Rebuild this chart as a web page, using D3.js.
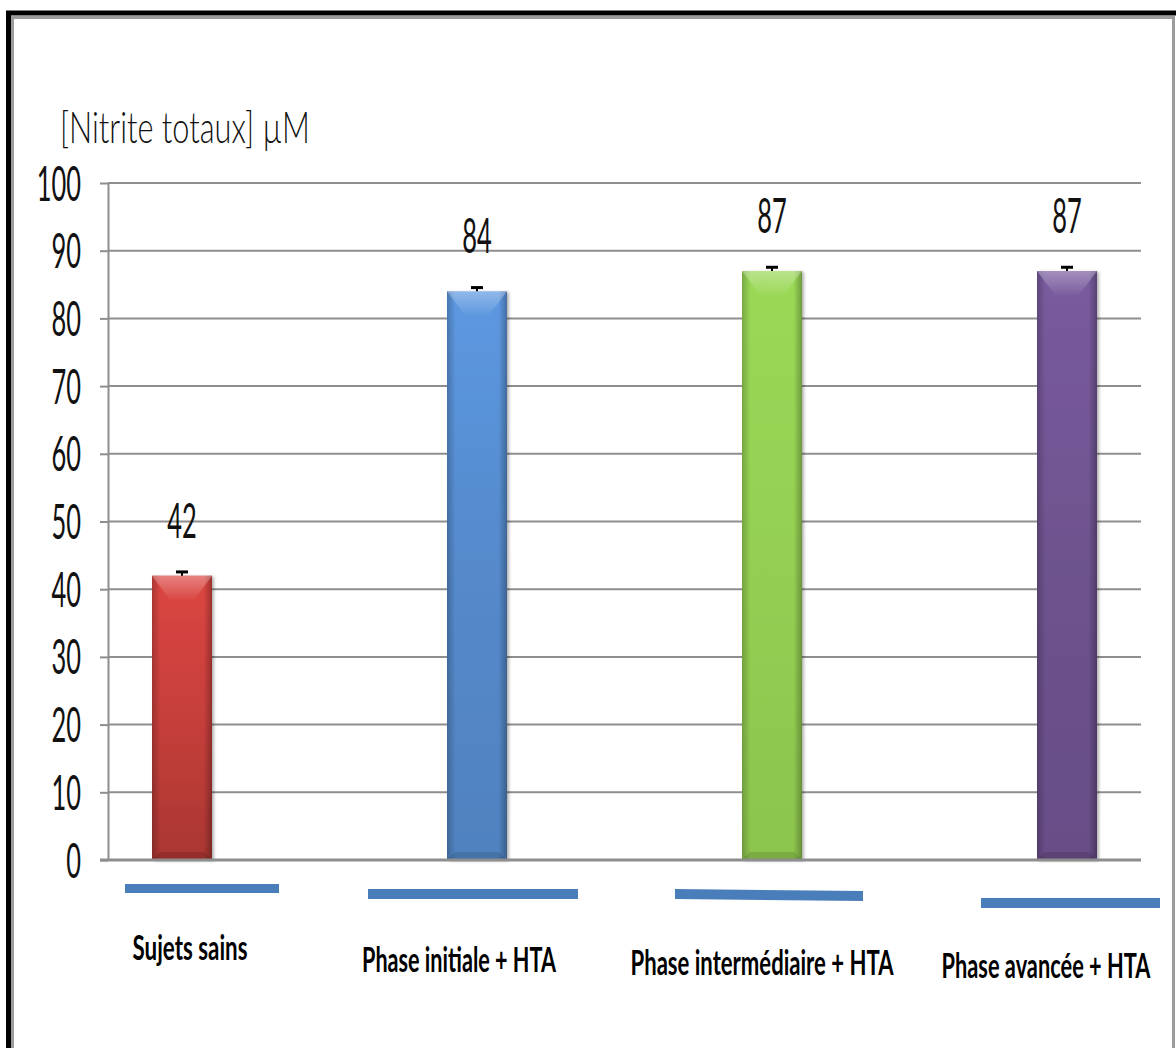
<!DOCTYPE html>
<html>
<head>
<meta charset="utf-8">
<script src="https://cdn.jsdelivr.net/npm/d3@7"></script>
<style>
  html, body { margin: 0; padding: 0; background: #ffffff; }
  svg { display: block; }
</style>
</head>
<body>
<div id="chart"></div>
<script>
// Total nitrite concentration per group
const categories = ["Sujets sains", "Phase initiale + HTA", "Phase intermédiaire + HTA", "Phase avancée + HTA"];
const values = [42, 84, 87, 87];
const errors = [0.7, 0.7, 0.7, 0.7];
const barColors = ["#c63f3b", "#5489ca", "#94cf52", "#6d528e"];
const yTicks = [0, 10, 20, 30, 40, 50, 60, 70, 80, 90, 100];
const yTitle = "[Nitrite totaux] µM";

// Placement of the category captions and the blue strokes drawn under the axis
const captionLayout = [
  { cx: 190, base: 960, len: 115 },
  { cx: 459, base: 972, len: 194 },
  { cx: 762, base: 975, len: 263 },
  { cx: 1046, base: 978, len: 209 }
];
const strokeLayout = [
  { x0: 125, x1: 279, y0: 884, y1: 884, h: 9 },
  { x0: 368, x1: 578, y0: 889, y1: 889, h: 10 },
  { x0: 675, x1: 863, y0: 889, y1: 891, h: 10 },
  { x0: 981, x1: 1160, y0: 898, y1: 898, h: 10 }
];

const W = 1176, H = 1048;
const plot = { left: 108, right: 1141, top: 183, bottom: 860 };
const barW = 60;
const FONT = "Lato, 'Open Sans', 'Liberation Sans', sans-serif";
const NUM_WEIGHT = 400;

const svg = d3.select("#chart").append("svg")
  .attr("width", W).attr("height", H)
  .attr("viewBox", `0 0 ${W} ${H}`);

const defs = svg.append("defs");

// Frame around the chart
svg.append("rect")
  .attr("x", 8.5).attr("y", 13).attr("width", 1300).attr("height", 1200)
  .attr("fill", "none").attr("stroke", "#000").attr("stroke-width", 5);
svg.append("rect")
  .attr("x", 12.5).attr("y", 17.5).attr("width", 1161).attr("height", 1200)
  .attr("fill", "none").attr("stroke", "#9c9c9c").attr("stroke-width", 3);

const y = d3.scaleLinear().domain([0, 100]).range([plot.bottom, plot.top]);
const x = d3.scalePoint().domain(categories).range([182, 1067]);

// Fit a text element horizontally to a given width, keeping its height
function fitWidth(sel, tx, ty, len, anchor) {
  sel.each(function () {
    const node = this;
    const natural = node.getComputedTextLength();
    const sx = natural > 0 ? len / natural : 1;
    d3.select(node)
      .attr("text-anchor", anchor)
      .attr("transform", `translate(${tx},${ty}) scale(${sx},1)`);
  });
}

// Horizontal gridlines
svg.append("g").selectAll("line")
  .data(yTicks.filter(t => t > 0))
  .join("line")
  .attr("x1", plot.left).attr("x2", plot.right)
  .attr("y1", d => y(d)).attr("y2", d => y(d))
  .attr("stroke", "#8e8e8e").attr("stroke-width", 2);

// Y axis with condensed numerals
const yAxis = d3.axisLeft(y).tickValues(yTicks).tickSize(8).tickSizeOuter(0).tickFormat(d3.format("d"));
const gy = svg.append("g").attr("transform", `translate(${plot.left},0)`).call(yAxis);
gy.select(".domain").attr("stroke", "#8e8e8e").attr("stroke-width", 2);
gy.selectAll(".tick line").attr("stroke", "#8e8e8e").attr("stroke-width", 2);
gy.selectAll(".tick text")
  .attr("x", null).attr("dy", null)
  .attr("transform", "translate(-27,17) scale(0.53,1)")
  .attr("text-anchor", "end")
  .attr("fill", "#111")
  .style("font-family", FONT).style("font-weight", NUM_WEIGHT).style("font-size", "48px");

// Axis title
svg.append("text")
  .attr("fill", "#111")
  .style("font-family", FONT).style("font-weight", 300).style("font-size", "43px")
  .text(yTitle)
  .call(fitWidth, 60, 143, 250, "start");

// Bar shading
const shadow = defs.append("filter").attr("id", "barShadow")
  .attr("x", "-20%").attr("y", "-10%").attr("width", "150%").attr("height", "130%");
shadow.append("feDropShadow").attr("dx", 2).attr("dy", 1).attr("stdDeviation", 1.5)
  .attr("flood-color", "#000").attr("flood-opacity", 0.3);

barColors.forEach((c, i) => {
  const base = d3.color(c);
  const g = defs.append("linearGradient").attr("id", `vg${i}`)
    .attr("x1", 0).attr("y1", 0).attr("x2", 0).attr("y2", 1);
  g.append("stop").attr("offset", 0).attr("stop-color", base.brighter(i === 2 ? 0.12 : 0.3));
  g.append("stop").attr("offset", 0.5).attr("stop-color", base);
  g.append("stop").attr("offset", 1).attr("stop-color", base.darker(i === 0 ? 0.45 : 0.15));
});
const hg = defs.append("linearGradient").attr("id", "edgeShade")
  .attr("x1", 0).attr("y1", 0).attr("x2", 1).attr("y2", 0);
hg.append("stop").attr("offset", 0).attr("stop-color", "#000").attr("stop-opacity", 0.22);
hg.append("stop").attr("offset", 0.14).attr("stop-color", "#000").attr("stop-opacity", 0);
hg.append("stop").attr("offset", 0.86).attr("stop-color", "#000").attr("stop-opacity", 0);
hg.append("stop").attr("offset", 1).attr("stop-color", "#000").attr("stop-opacity", 0.28);
const bevel = defs.append("linearGradient").attr("id", "topBevel")
  .attr("x1", 0).attr("y1", 0).attr("x2", 0).attr("y2", 1);
bevel.append("stop").attr("offset", 0).attr("stop-color", "#fff").attr("stop-opacity", 0.32);
bevel.append("stop").attr("offset", 1).attr("stop-color", "#fff").attr("stop-opacity", 0.02);

const data = categories.map((c, i) => ({ c, v: values[i], e: errors[i], i }));

const bars = svg.append("g").selectAll("g").data(data).join("g");

bars.append("rect")
  .attr("x", d => x(d.c) - barW / 2).attr("y", d => y(d.v))
  .attr("width", barW).attr("height", d => y(0) - y(d.v))
  .attr("fill", d => `url(#vg${d.i})`)
  .attr("filter", "url(#barShadow)");
bars.append("rect")
  .attr("x", d => x(d.c) - barW / 2).attr("y", d => y(d.v))
  .attr("width", barW).attr("height", d => y(0) - y(d.v))
  .attr("fill", "url(#edgeShade)");
// top bevel
bars.append("path")
  .attr("d", d => {
    const x0 = x(d.c) - barW / 2, x1 = x(d.c) + barW / 2, t = y(d.v);
    return `M${x0},${t}L${x1},${t}L${x1 - 18},${t + 24}L${x0 + 18},${t + 24}Z`;
  })
  .attr("fill", "url(#topBevel)");
// bottom bevel
bars.append("path")
  .attr("d", d => {
    const x0 = x(d.c) - barW / 2, x1 = x(d.c) + barW / 2, b = y(0);
    return `M${x0},${b}L${x1},${b}L${x1 - 8},${b - 8}L${x0 + 8},${b - 8}Z`;
  })
  .attr("fill", "#000").attr("fill-opacity", 0.12);

// Error bars
bars.append("line")
  .attr("x1", d => x(d.c)).attr("x2", d => x(d.c))
  .attr("y1", d => y(d.v)).attr("y2", d => y(d.v + d.e))
  .attr("stroke", "#000").attr("stroke-width", 2);
bars.append("line")
  .attr("x1", d => x(d.c) - 6).attr("x2", d => x(d.c) + 6)
  .attr("y1", d => y(d.v + d.e) + 1).attr("y2", d => y(d.v + d.e) + 1)
  .attr("stroke", "#000").attr("stroke-width", 3);

// Value labels
bars.append("text")
  .attr("transform", d => `translate(${x(d.c)},${y(d.v) - 38}) scale(0.53,1)`)
  .attr("text-anchor", "middle")
  .attr("fill", "#111")
  .style("font-family", FONT).style("font-weight", NUM_WEIGHT).style("font-size", "48px")
  .text(d => d3.format("d")(d.v));

// Zero baseline
svg.append("line")
  .attr("x1", plot.left - 8).attr("x2", plot.right)
  .attr("y1", y(0)).attr("y2", y(0))
  .attr("stroke", "#8e8e8e").attr("stroke-width", 3);

// Blue strokes under the axis
svg.append("g").selectAll("path").data(strokeLayout).join("path")
  .attr("d", s => `M${s.x0},${s.y0}L${s.x1},${s.y1}L${s.x1},${s.y1 + s.h}L${s.x0},${s.y0 + s.h}Z`)
  .attr("fill", "#4a7ebb");

// Category captions
svg.append("g").selectAll("text").data(categories).join("text")
  .attr("fill", "#000")
  .style("font-family", FONT).style("font-weight", 700).style("font-size", "35px")
  .text(d => d)
  .each(function (d, i) {
    const L = captionLayout[i];
    d3.select(this).call(fitWidth, L.cx, L.base, L.len, "middle");
  });
</script>
</body>
</html>
